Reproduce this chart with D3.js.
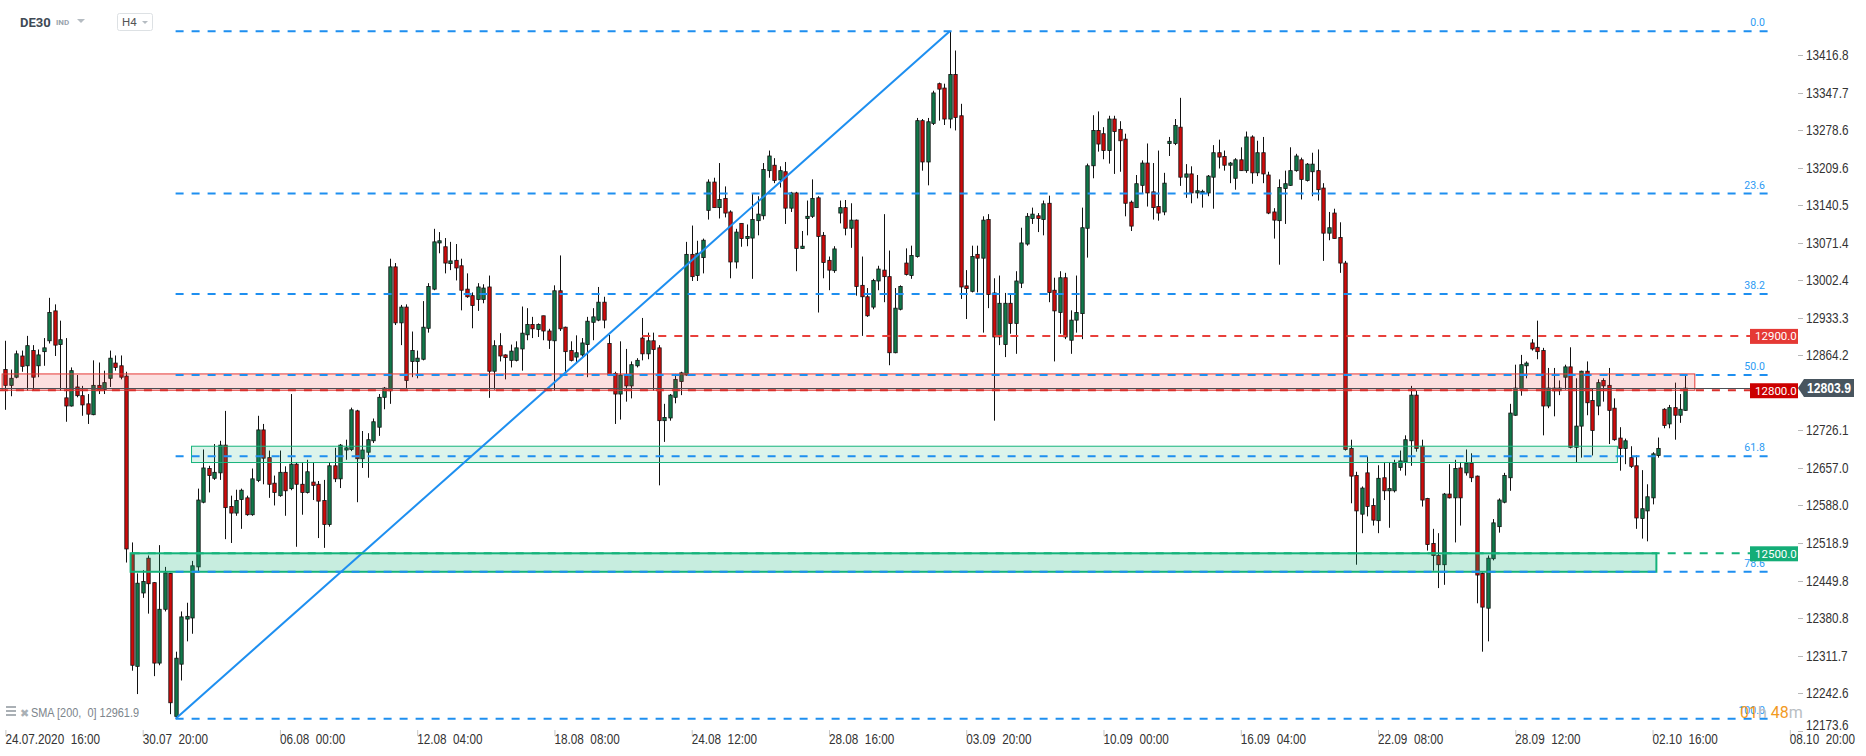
<!DOCTYPE html>
<html>
<head>
<meta charset="utf-8">
<script src="https://cdnjs.cloudflare.com/ajax/libs/d3/7.8.5/d3.min.js"></script>
<style>
  body { margin: 0; background: #fff; }
  svg { display: block; }
  text { font-family: "Liberation Sans", Arial, sans-serif; }
</style>
</head>
<body>
<div id="chart"></div>
<script>
// DE30 H4 candles, bar index 0 = 24.07.2020 16:00
const open = [12838,12809,12824,12863,12845,12873,12845,12871,12891,12946,
  12884,12786,12771,12806,12790,12775,12755,12809,12801,12822,
  12850,12845,12826,12500,12292,12427,12491,12446,12298,12397,
  12463,12200,12296,12379,12381,12475,12594,12656,12638,12648,
  12699,12586,12574,12599,12602,12571,12634,12727,12676,12629,
  12606,12649,12619,12664,12627,12612,12631,12627,12597,12553,
  12661,12637,12690,12691,12762,12674,12686,12707,12732,12787,
  12799,13027,12924,12953,12853,12853,12857,12914,12986,13071,
  13064,13033,13039,13029,12986,12974,12967,12967,12990,12835,
  12882,12865,12855,12855,12876,12902,12921,12912,12937,12909,
  12891,12983,12916,12873,12861,12865,12884,12925,12929,12962,
  12886,12831,12793,12827,12808,12845,12896,12867,12891,12878,
  12744,12749,12787,12816,12828,13050,13011,13044,13131,13183,
  13136,13153,13128,13036,13107,13079,13080,13112,13121,13204,
  13214,13187,13202,13135,13163,13061,13116,13120,13154,13085,
  13039,13020,13126,13136,13098,13113,12993,12972,12953,13001,
  13021,13009,12869,12949,13034,13011,13046,13296,13220,13291,
  13364,13356,13299,13381,13305,12992,12982,13050,13043,13114,
  12979,12898,12884,12960,12923,12997,13069,13116,13121,13114,
  13144,12984,12943,13007,12892,12929,12941,13098,13213,13278,
  13272,13241,13299,13280,13262,13146,13136,13177,13218,13165,
  13138,13128,13254,13254,13284,13192,13198,13163,13163,13163,
  13192,13237,13230,13214,13190,13224,13204,13266,13200,13237,
  13196,13128,13112,13171,13177,13204,13224,13186,13202,13204,
  13172,13089,13126,13081,13034,12693,12643,12572,12648,12588,
  12560,12639,12615,12615,12658,12668,12707,12791,12697,12601,
  12518,12496,12479,12609,12602,12657,12648,12666,12642,12463,
  12399,12490,12549,12594,12639,12754,12802,12845,12887,12879,
  12873,12771,12799,12799,12824,12843,12695,12734,12835,12781,
  12771,12818,12809,12767,12712,12693,12676,12661,12564,12578,
  12602,12680,12765,12738,12768,12754,12763];
const high = [12891,12838,12873,12873,12900,12883,12875,12896,12970,12958,
  12928,12896,12842,12828,12808,12793,12855,12851,12836,12873,
  12864,12864,12834,12520,12463,12469,12496,12447,12515,12475,
  12464,12319,12393,12409,12486,12619,12691,12661,12701,12707,
  12762,12606,12617,12619,12606,12656,12753,12738,12689,12643,
  12689,12660,12793,12668,12668,12672,12668,12633,12635,12668,
  12694,12701,12709,12768,12764,12725,12721,12748,12793,12806,
  13042,13034,12957,12958,12908,12873,12964,12997,13097,13091,
  13080,13073,13069,13042,13015,12980,12997,12995,13011,12892,
  12905,12866,12884,12890,12954,12951,12935,12923,12937,12913,
  12993,13048,12917,12890,12901,12896,12935,12951,12990,12972,
  12902,12834,12890,12876,12853,12859,12933,12906,12906,12883,
  12775,12793,12830,12834,13073,13103,13075,13079,13188,13191,
  13218,13175,13131,13097,13107,13105,13161,13157,13218,13241,
  13227,13212,13220,13165,13165,13093,13149,13188,13157,13091,
  13046,13065,13149,13150,13144,13114,13046,12988,13005,13029,
  13124,13057,12988,12993,13061,13066,13301,13299,13301,13351,
  13366,13364,13460.4,13425,13327,13021,13066,13066,13120,13124,
  13006,13011,12979,12976,13019,13099,13126,13136,13126,13149,
  13158,13007,13019,13016,12947,13011,13136,13217,13306,13313,
  13284,13305,13305,13295,13272,13149,13196,13223,13254,13218,
  13241,13200,13266,13299,13338,13216,13212,13196,13169,13196,
  13251,13261,13241,13220,13227,13247,13276,13269,13259,13266,
  13202,13135,13188,13204,13247,13235,13228,13218,13237,13243,
  13181,13128,13134,13109,13038,12709,12650,12623,12678,12601,
  12662,12668,12668,12672,12689,12717,12808,12799,12709,12602,
  12545,12537,12611,12664,12672,12668,12691,12684,12643,12465,
  12496,12563,12601,12648,12775,12847,12865,12853,12894,12928,
  12878,12841,12841,12818,12847,12879,12822,12836,12853,12804,
  12820,12822,12841,12785,12732,12711,12697,12680,12653,12627,
  12686,12713,12767,12773,12814,12793,12827];
const low = [12764,12789,12822,12834,12799,12799,12824,12845,12886,12863,
  12799,12742,12770,12787,12753,12738,12754,12793,12793,12806,
  12836,12820,12483,12284,12241,12418,12389,12274,12294,12393,
  12204,12195.5,12266,12338,12352,12465,12592,12612,12635,12635,
  12526,12519,12569,12545,12569,12569,12631,12627,12602,12588,
  12604,12569,12616,12512,12571,12610,12598,12528,12510,12549,
  12631,12620,12672,12688,12594,12657,12639,12703,12716,12765,
  12775,12920,12883,12804,12824,12822,12855,12906,12984,13052,
  13015,13021,13002,12947,12970,12914,12946,12960,12786,12801,
  12853,12820,12842,12853,12836,12892,12896,12898,12892,12876,
  12799,12909,12832,12853,12849,12861,12824,12892,12927,12914,
  12827,12738,12746,12779,12785,12842,12855,12857,12799,12625,
  12705,12744,12776,12791,12827,13001,13001,13015,13114,13136,
  13116,13118,13006,13024,13064,13065,13005,13085,13114,13191,
  13181,13173,13106,13128,13019,13060,13085,13117,12943,13006,
  12984,13016,13107,13085,13062,12974,12900,12935,12949,12984,
  12962,12846,12868,12947,13011,13005,13044,13204,13177,13288,
  13296,13288,13282,13278,12968,12931,12980,12980,12906,12951,
  12744,12883,12861,12904,12867,12988,13066,13106,13091,13085,
  12962,12853,12904,12894,12867,12906,12894,13044,13190,13239,
  13225,13217,13198,13202,13120,13093,13136,13163,13138,13114,
  13112,13122,13231,13251,13176,13154,13144,13153,13136,13157,
  13134,13208,13204,13181,13169,13204,13200,13180,13194,13181,
  13124,13079,13031,13106,13176,13202,13151,13184,13157,13149,
  13038,13076,13079,13016,12689,12592,12479,12537,12568,12551,
  12537,12598,12547,12612,12652,12643,12661,12687,12586,12505,
  12468,12436,12442,12601,12520,12551,12643,12631,12408,12319,
  12338,12487,12538,12592,12615,12753,12790,12822,12873,12857,
  12717,12767,12752,12791,12801,12693,12668,12676,12754,12680,
  12754,12779,12701,12707,12652,12664,12657,12545,12527,12522,
  12590,12676,12730,12730,12709,12740,12762];
const close = [12809,12822,12867,12844,12882,12824,12865,12878,12943,12883,
  12893,12771,12836,12790,12773,12756,12809,12801,12814,12859,
  12842,12824,12508,12294,12445,12448,12444,12298,12397,12464,
  12225,12307,12383,12384,12477,12598,12657,12643,12649,12699,
  12584,12574,12597,12616,12571,12637,12727,12675,12627,12612,
  12649,12615,12664,12627,12612,12650,12625,12596,12553,12661,
  12637,12699,12694,12764,12674,12690,12709,12742,12787,12804,
  13027,12924,12953,12818,12873,12859,12916,12991,13073,13075,
  13034,13038,13025,12984,12972,12956,12990,12988,12835,12882,
  12863,12860,12872,12878,12905,12921,12913,12921,12909,12892,
  12983,12913,12871,12855,12869,12887,12927,12935,12962,12929,
  12828,12793,12828,12808,12847,12855,12867,12891,12875,12744,
  12750,12791,12820,12832,13050,13009,13052,13076,13183,13136,
  13151,13126,13036,13091,13079,13083,13114,13124,13206,13231,
  13186,13204,13135,13163,13061,13065,13120,13153,13083,13035,
  13021,13060,13136,13098,13113,12991,12972,12937,13002,13023,
  13009,12869,12951,12991,13013,13048,13296,13220,13294,13347,
  13354,13299,13381,13302,12990,12987,13046,13043,13113,12976,
  12898,12960,12960,12923,13001,13071,13120,13124,13116,13143,
  12980,12946,13007,12898,12929,12943,13099,13213,13278,13253,
  13241,13299,13276,13259,13144,13102,13180,13218,13163,13136,
  13126,13181,13258,13287,13192,13198,13163,13167,13166,13194,
  13237,13229,13214,13218,13224,13204,13266,13200,13237,13198,
  13126,13113,13173,13180,13204,13231,13188,13216,13216,13169,
  13089,13099,13079,13034,12691,12642,12578,12620,12586,12561,
  12638,12615,12619,12666,12670,12709,12791,12693,12598,12516,
  12496,12479,12609,12602,12656,12602,12666,12639,12460,12401,
  12491,12556,12598,12643,12758,12804,12847,12850,12876,12871,
  12771,12804,12804,12804,12843,12695,12734,12835,12777,12726,
  12814,12808,12763,12709,12693,12707,12660,12565,12582,12604,
  12683,12693,12735,12768,12754,12765,12803.9];

// time axis labels every 25 bars
const timeTickIdx = [0,25,50,75,100,125,150,175,200,225,250,275,300,325];
const timeTickLabels = ["24.07.2020  16:00","30.07  20:00","06.08  00:00","12.08  04:00","18.08  08:00",
  "24.08  12:00","28.08  16:00","03.09  20:00","10.09  00:00","16.09  04:00","22.09  08:00",
  "28.09  12:00","02.10  16:00","08.10  20:00"];
const priceTicks = [13416.8,13347.7,13278.6,13209.6,13140.5,13071.4,13002.4,12933.3,12864.2,
  12726.1,12657.0,12588.0,12518.9,12449.8,12380.8,12311.7,12242.6,12173.6];

// fibonacci retracement, drawn between bar 31 (low) and bar 172 (high)
const fibLevels = [0, 23.6, 38.2, 50, 61.8, 78.6, 100];
const fibLowIdx = 31, fibHighIdx = 172, fibEndIdx = 321;

// horizontal levels and zones
const hLevels = [
  {price: 12900, startIdx: 116, color: "#e8403b", box: "#e53935"},
  {price: 12800, startIdx: -1, color: "#d9302c", box: "#cc0000"},
  {price: 12500, startIdx: 23, color: "#15b37b", box: "#13ad77"}
];
const zones = [
  {top: 12830, bottom: 12800, from: -0.6, to: 307.7, stroke: "#e53935", fill: "rgba(229,57,53,0.16)", sw: 1},
  {top: 12697, bottom: 12667, from: 33.9, to: 293.6, stroke: "#15b37b", fill: "rgba(21,179,123,0.15)", sw: 1},
  {top: 12500, bottom: 12466, from: 22.8, to: 300.7, stroke: "#15b37b", fill: "rgba(21,179,123,0.24)", sw: 2}
];
const lastPrice = 12803.9;
const smaText = "SMA [200,  0] 12961.9";
const timerText = ["01", "h ", "48", "m"];

const width = 1866, height = 756;
const plotRight = 1798, labelLeft = 1750;
const narrow = 0.84; // horizontal squeeze for the condensed axis font

const svg = d3.select("#chart").append("svg")
  .attr("width", width).attr("height", height);

const x = d3.scaleLinear().domain([0, 325]).range([5.4, 1789.8]);
const y = d3.scaleLinear().domain([12173.6, 13416.8]).range([730.7, 55]);
const px = v => Math.round(x(v)) + 0.5;

// ---- candles
const bars = d3.range(open.length).map(i => ({i, o: open[i], h: high[i], l: low[i], c: close[i]}));
const cg = svg.append("g");
cg.selectAll("line.wick").data(bars).enter().append("line")
  .attr("x1", d => px(d.i)).attr("x2", d => px(d.i))
  .attr("y1", d => y(d.h)).attr("y2", d => y(d.l))
  .attr("stroke", "#111").attr("stroke-width", 1);
cg.selectAll("rect.body").data(bars).enter().append("rect")
  .attr("x", d => px(d.i) - 1.7)
  .attr("width", 3.4)
  .attr("y", d => y(Math.max(d.o, d.c)))
  .attr("height", d => Math.max(1, Math.abs(y(d.o) - y(d.c))))
  .attr("fill", d => d.c >= d.o ? "#11784a" : "#cf0a0a")
  .attr("stroke", "#111").attr("stroke-width", 0.8);

// ---- zones
svg.append("g").selectAll("rect").data(zones).enter().append("rect")
  .attr("x", d => x(d.from)).attr("width", d => x(d.to) - x(d.from))
  .attr("y", d => y(d.top)).attr("height", d => y(d.bottom) - y(d.top))
  .attr("fill", d => d.fill).attr("stroke", d => d.stroke).attr("stroke-width", d => d.sw);

// ---- fibonacci lines
const fHigh = high[fibHighIdx], fLow = low[fibLowIdx];
const fib = fibLevels.map(l => ({l, p: fHigh - (fHigh - fLow) * l / 100}));
const fg = svg.append("g");
fg.selectAll("line").data(fib).enter().append("line")
  .attr("x1", x(fibLowIdx)).attr("x2", x(fibEndIdx))
  .attr("y1", d => y(d.p)).attr("y2", d => y(d.p))
  .attr("stroke", "#1e8ff0").attr("stroke-width", 2).attr("stroke-dasharray", "8,8");
fg.selectAll("text").data(fib).enter().append("text")
  .attr("x", x(fibEndIdx) - 3).attr("y", d => y(d.p) - 5)
  .attr("text-anchor", "end").attr("font-size", 10.5).attr("fill", "#2b9af3")
  .style("font-family", "Roboto, sans-serif")
  .text(d => d.l.toFixed(1));

// trend line low -> high
svg.append("line")
  .attr("x1", x(fibLowIdx)).attr("y1", y(fLow))
  .attr("x2", x(fibHighIdx)).attr("y2", y(fHigh))
  .attr("stroke", "#1e8ff0").attr("stroke-width", 2);

// ---- current price line
svg.append("line")
  .attr("x1", 0).attr("x2", plotRight)
  .attr("y1", Math.round(y(lastPrice)) + 0.5).attr("y2", Math.round(y(lastPrice)) + 0.5)
  .attr("stroke", "#4a4f55").attr("stroke-width", 1);

// ---- horizontal levels with price boxes
const hg = svg.append("g");
hg.selectAll("line").data(hLevels).enter().append("line")
  .attr("x1", d => x(d.startIdx)).attr("x2", labelLeft)
  .attr("y1", d => y(d.price)).attr("y2", d => y(d.price))
  .attr("stroke", d => d.color).attr("stroke-width", 2).attr("stroke-dasharray", "8,8");
hg.selectAll("rect").data(hLevels).enter().append("rect")
  .attr("x", labelLeft).attr("width", plotRight - labelLeft)
  .attr("y", d => y(d.price) - 7).attr("height", 15)
  .attr("fill", d => d.box);
hg.selectAll("text").data(hLevels).enter().append("text")
  .attr("x", labelLeft + 5).attr("y", d => y(d.price) + 4.5)
  .attr("font-size", 11.5).attr("fill", "#fff")
  .style("font-family", "Roboto, sans-serif")
  .text(d => d.price.toFixed(1));

// ---- price axis (right)
const yAxis = svg.append("g");
yAxis.selectAll("line").data(priceTicks).enter().append("line")
  .attr("x1", plotRight).attr("x2", plotRight + 5)
  .attr("y1", d => Math.round(y(d)) + 0.5).attr("y2", d => Math.round(y(d)) + 0.5)
  .attr("stroke", "#b8b8b8");
yAxis.selectAll("text").data(priceTicks).enter().append("text")
  .attr("transform", d => `translate(${plotRight + 8},${Math.min(y(d), 725) + 5}) scale(${narrow},1)`)
  .attr("font-size", 14).attr("fill", "#333")
  .text(d => d.toFixed(1));

// last price tag
const ly = y(lastPrice);
svg.append("path")
  .attr("d", `M${plotRight},${ly} L${plotRight + 6},${ly - 9} H1854 V${ly + 9} H${plotRight + 6} Z`)
  .attr("fill", "#48555f");
svg.append("text")
  .attr("transform", `translate(${plotRight + 9},${ly + 5}) scale(${narrow},1)`)
  .attr("font-size", 14.5).attr("font-weight", "bold").attr("fill", "#fff")
  .text(lastPrice.toFixed(1));

// ---- time axis (bottom)
const xAxis = svg.append("g").attr("transform", "translate(0,730)")
  .call(d3.axisBottom(x).tickValues(timeTickIdx).tickSize(6).tickFormat((d, i) => timeTickLabels[i]));
xAxis.select(".domain").remove();
xAxis.selectAll(".tick line").attr("stroke", "#c8c8c8");
xAxis.selectAll(".tick text")
  .attr("text-anchor", "start").attr("x", 0).attr("y", 0).attr("dy", null)
  .attr("transform", `translate(-0.5,14) scale(${narrow},1)`)
  .attr("font-size", 14).attr("fill", "#333")
  .style("font-family", "'Liberation Sans', Arial, sans-serif")
  .style("white-space", "pre");

// ---- header
const hd = svg.append("g");
hd.append("text").attr("x", 20).attr("y", 27).attr("font-size", 13).attr("font-weight", "bold")
  .attr("fill", "#3f4a55").style("font-family", "Roboto, sans-serif").text("DE30");
hd.append("text").attr("x", 56).attr("y", 25).attr("font-size", 8).attr("font-weight", "bold")
  .attr("fill", "#9aa4ad").style("font-family", "Roboto, sans-serif").text("IND");
hd.append("path").attr("d", "M77,19 L85,19 L81,23 Z").attr("fill", "#b5bcc2");
hd.append("rect").attr("x", 117.5).attr("y", 13.5).attr("width", 35).attr("height", 17).attr("rx", 2)
  .attr("fill", "#fff").attr("stroke", "#dde1e4");
hd.append("text").attr("x", 122).attr("y", 26).attr("font-size", 11.5).attr("fill", "#555")
  .style("font-family", "Roboto, sans-serif").text("H4");
hd.append("path").attr("d", "M142,21 L148,21 L145,24 Z").attr("fill", "#b5bcc2");

// ---- indicator legend (bottom left)
const lg = svg.append("g");
[706, 710, 714].forEach(yy => lg.append("rect").attr("x", 6).attr("y", yy)
  .attr("width", 10).attr("height", 2).attr("fill", "#aab0b5"));
lg.append("text").attr("x", 20).attr("y", 717).attr("font-size", 11).attr("font-weight", "bold")
  .attr("fill", "#aab0b5").style("font-family", "DejaVu Sans, sans-serif").text("✖");
lg.append("text")
  .attr("transform", `translate(31,717) scale(${narrow},1)`)
  .attr("font-size", 13).attr("fill", "#7d858c")
  .style("white-space", "pre").text(smaText);

// ---- bar timer (bottom right)
const tm = svg.append("text").attr("x", 1740).attr("y", 718).attr("font-size", 16)
  .style("font-family", "Roboto, sans-serif");
tm.selectAll("tspan").data(timerText).enter().append("tspan")
  .attr("fill", (d, i) => i % 2 === 0 ? "#f29a1f" : "#b9bec3")
  .style("white-space", "pre")
  .text(d => d);
</script>
</body>
</html>
